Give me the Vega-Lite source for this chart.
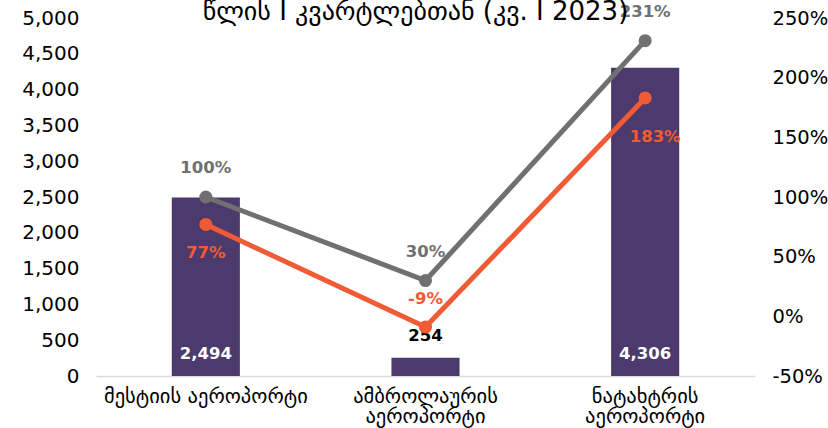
{
  "$schema": "https://vega.github.io/schema/vega-lite/v6.json",
  "width": 659,
  "height": 358,
  "autosize": {"type": "none"},
  "padding": {"left": 96, "top": 18, "right": 73, "bottom": 52},
  "background": "white",
  "title": {
    "text": "წლის I კვარტლებთან (კვ. I 2023)",
    "font": "DejaVu Sans",
    "fontSize": 26,
    "fontWeight": "normal",
    "color": "#000000",
    "anchor": "middle",
    "frame": "group",
    "dx": -10,
    "offset": -42,
    "baseline": "alphabetic"
  },
  "config": {
    "view": {"stroke": null},
    "font": "DejaVu Sans",
    "locale": {"number": {"decimal": ".", "thousands": ",", "grouping": [3], "currency": ["$", ""], "minus": "-"}}
  },
  "datasets": {
    "bars": [
      {"airport": "მესტიის აეროპორტი", "value": 2494},
      {"airport": "ამბროლაურის აეროპორტი", "value": 254},
      {"airport": "ნატახტრის აეროპორტი", "value": 4306}
    ],
    "lines": [
      {"airport": "მესტიის აეროპორტი", "series": "A", "pct": 1.00},
      {"airport": "ამბროლაურის აეროპორტი", "series": "A", "pct": 0.30},
      {"airport": "ნატახტრის აეროპორტი", "series": "A", "pct": 2.31},
      {"airport": "მესტიის აეროპორტი", "series": "B", "pct": 0.77},
      {"airport": "ამბროლაურის აეროპორტი", "series": "B", "pct": -0.09},
      {"airport": "ნატახტრის აეროპორტი", "series": "B", "pct": 1.83}
    ]
  },
  "encoding": {
    "x": {
      "field": "airport",
      "type": "nominal",
      "sort": null,
      "scale": {"paddingInner": 0.69, "paddingOuter": 0.345},
      "axis": {
        "title": null,
        "labelAngle": 0,
        "labelFont": "DejaVu Sans",
        "labelFontSize": 20.5,
        "labelColor": "#000000",
        "labelPadding": 10,
        "labelLineHeight": 20,
        "labelBaseline": "top",
        "labelExpr": "length(datum.label) > 18 ? split(datum.label, ' ') : datum.label",
        "ticks": false,
        "domainColor": "#d9d9d9",
        "domainWidth": 1.5,
        "labelLimit": 400
      }
    }
  },
  "layer": [
    {
      "data": {"name": "bars"},
      "encoding": {
        "y": {
          "field": "value",
          "type": "quantitative",
          "scale": {"domain": [0, 5000], "nice": false},
          "axis": {
            "title": null,
            "orient": "left",
            "values": [0, 500, 1000, 1500, 2000, 2500, 3000, 3500, 4000, 4500, 5000],
            "format": ",d",
            "grid": false,
            "domain": false,
            "ticks": false,
            "labelFontSize": 20,
            "labelColor": "#000000",
            "labelPadding": 17
          }
        }
      },
      "layer": [
        {"mark": {"type": "bar", "color": "#4B3A6B"}},
        {
          "transform": [{"filter": "datum.value >= 1000"}],
          "mark": {"type": "text", "color": "#ffffff", "fontWeight": "bold", "fontSize": 16.5, "baseline": "middle", "dy": -22},
          "encoding": {
            "y": {"datum": 0},
            "text": {"field": "value", "type": "quantitative", "format": ",d"}
          }
        },
        {
          "transform": [{"filter": "datum.value < 1000"}],
          "mark": {"type": "text", "color": "#000000", "fontWeight": "bold", "fontSize": 16.5, "baseline": "middle", "dy": -22},
          "encoding": {
            "text": {"field": "value", "type": "quantitative", "format": ",d"}
          }
        }
      ]
    },
    {
      "data": {"name": "lines"},
      "encoding": {
        "y": {
          "field": "pct",
          "type": "quantitative",
          "scale": {"domain": [-0.5, 2.5], "nice": false},
          "axis": {
            "title": null,
            "orient": "right",
            "values": [-0.5, 0, 0.5, 1, 1.5, 2, 2.5],
            "format": ".0%",
            "grid": false,
            "domain": false,
            "ticks": false,
            "labelFontSize": 19.5,
            "labelColor": "#000000",
            "labelPadding": 17
          }
        },
        "color": {
          "field": "series",
          "type": "nominal",
          "scale": {"domain": ["A", "B"], "range": ["#707070", "#F05A35"]},
          "legend": null
        }
      },
      "layer": [
        {"mark": {"type": "line", "strokeWidth": 5}},
        {"mark": {"type": "point", "filled": true, "opacity": 1, "size": 170}},
        {
          "transform": [{"filter": "datum.series == 'A'"}],
          "mark": {"type": "text", "fontWeight": "bold", "fontSize": 16.5, "baseline": "middle", "dy": -29},
          "encoding": {"text": {"field": "pct", "type": "quantitative", "format": ".0%"}}
        },
        {
          "transform": [{"filter": "datum.series == 'B' && datum.pct >= 0 && datum.pct < 1.5"}],
          "mark": {"type": "text", "fontWeight": "bold", "fontSize": 16.5, "baseline": "middle", "dy": 29},
          "encoding": {"text": {"field": "pct", "type": "quantitative", "format": ".0%"}}
        },
        {
          "transform": [{"filter": "datum.series == 'B' && datum.pct >= 1.5"}],
          "mark": {"type": "text", "fontWeight": "bold", "fontSize": 16.5, "baseline": "middle", "dy": 39, "dx": 10},
          "encoding": {"text": {"field": "pct", "type": "quantitative", "format": ".0%"}}
        },
        {
          "transform": [{"filter": "datum.series == 'B' && datum.pct < 0"}],
          "mark": {"type": "text", "fontWeight": "bold", "fontSize": 16.5, "baseline": "middle", "dy": -28},
          "encoding": {"text": {"field": "pct", "type": "quantitative", "format": ".0%"}}
        }
      ]
    }
  ],
  "resolve": {"scale": {"y": "independent", "color": "shared"}}
}
